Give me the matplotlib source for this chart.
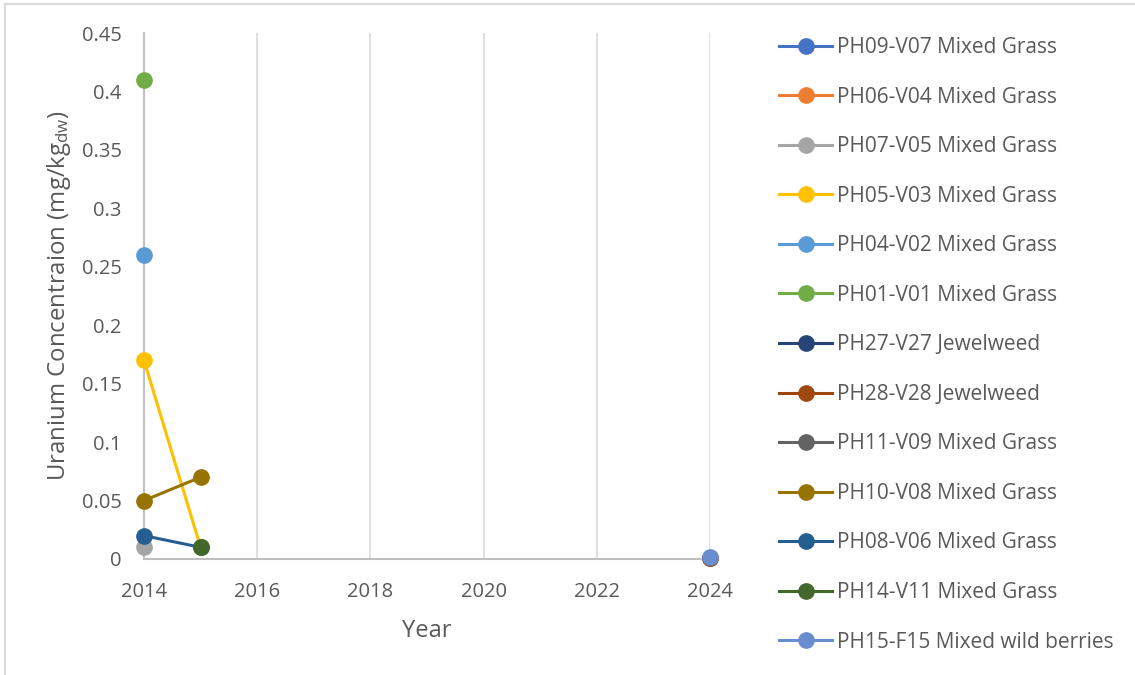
import matplotlib.pyplot as plt
import numpy as np
from matplotlib.lines import Line2D

plt.rcParams['font.family'] = ['Open Sans', 'DejaVu Sans']

years = [2014, 2015, 2024]
nan = np.nan

labels = ['PH09-V07 Mixed Grass', 'PH06-V04 Mixed Grass', 'PH07-V05 Mixed Grass',
          'PH05-V03 Mixed Grass', 'PH04-V02 Mixed Grass', 'PH01-V01 Mixed Grass',
          'PH27-V27 Jewelweed', 'PH28-V28 Jewelweed', 'PH11-V09 Mixed Grass',
          'PH10-V08 Mixed Grass', 'PH08-V06 Mixed Grass', 'PH14-V11 Mixed Grass',
          'PH15-F15 Mixed wild berries']
colors = ['#4472C4', '#ED7D31', '#A5A5A5', '#FFC000', '#5B9BD5', '#70AD47',
          '#264478', '#9E480E', '#636363', '#997300', '#255E91', '#43682B',
          '#698ED0']

ph09 = [nan, nan, nan]
ph06 = [nan, nan, nan]
ph07 = [0.01, nan, nan]
ph05 = [0.17, 0.01, nan]
ph04 = [0.26, nan, nan]
ph01 = [0.41, nan, nan]
ph27 = [nan, nan, 0.001]
ph28 = [nan, nan, 0.001]
ph11 = [nan, nan, nan]
ph10 = [0.05, 0.07, nan]
ph08 = [0.02, 0.01, nan]
ph14 = [nan, 0.01, nan]
ph15 = [nan, nan, 0.002]
series = [ph09, ph06, ph07, ph05, ph04, ph01, ph27, ph28, ph11, ph10, ph08, ph14, ph15]

yticks = [0, 0.05, 0.1, 0.15, 0.2, 0.25, 0.3, 0.35, 0.4, 0.45]
ytick_labels = ['0', '0.05', '0.1', '0.15', '0.2', '0.25', '0.3', '0.35', '0.4', '0.45']
xticks = [2014, 2016, 2018, 2020, 2022, 2024]

W, H = 1135, 675
fig = plt.figure(figsize=(W / 100, H / 100), dpi=100)
ax = fig.add_axes([144 / W, 1 - 559 / H, (710 - 144) / W, (559 - 33) / H])

handles = []
for vals, lab, c in zip(series, labels, colors):
    ax.plot(years, vals, '-o', color=c, lw=2.2, ms=11, label=lab, clip_on=False, zorder=3)
    handles.append(Line2D([], [], color=c, lw=2.2, marker='o', ms=11))

ax.set_xlim(2014, 2024)
ax.set_ylim(0, 0.45)
ax.set_xticks(xticks)
ax.set_yticks(yticks)
ax.set_yticklabels(ytick_labels)
ax.tick_params(length=0, labelsize=14.5, colors='#595959')
ax.tick_params(axis='x', pad=16.5)
ax.tick_params(axis='y', pad=16)
ax.grid(axis='x', color='#d9d9d9', lw=1.2)
ax.set_axisbelow(True)
for s in ['top', 'right']:
    ax.spines[s].set_visible(False)
for s in ['left', 'bottom']:
    ax.spines[s].set_color('#bfbfbf')
    ax.spines[s].set_linewidth(1.5)

ax.set_xlabel('Year', fontsize=17, color='#595959', labelpad=12)
ax.set_ylabel(r'Uranium Concentraion (mg/kg$\mathregular{_{dw}}$)', fontsize=17.3,
              color='#595959', labelpad=6)

fig.legend(handles, labels, loc='upper left', bbox_to_anchor=(779 / W, 1 - 37 / H),
           frameon=False, fontsize=15, handlelength=2.55, handletextpad=0.25,
           labelspacing=1.37, borderpad=0, borderaxespad=0, labelcolor='#595959')

# outer chart border
fig.add_artist(Line2D([5 / W, 5 / W], [0, 1 - 4 / H], color='#d9d9d9', lw=1.5))
fig.add_artist(Line2D([5 / W, 1], [1 - 4 / H, 1 - 4 / H], color='#d9d9d9', lw=1.5))

fig.savefig('out.png', dpi=100)
